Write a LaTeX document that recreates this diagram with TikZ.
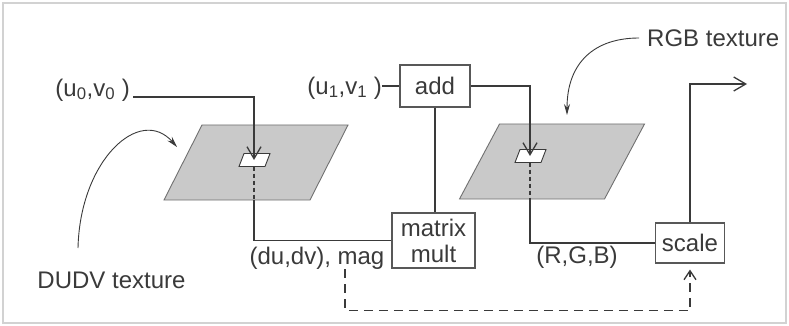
\documentclass[tikz,border=0pt]{standalone}
\usepackage{fontspec}
\setmainfont{Liberation Sans}
\usetikzlibrary{arrows.meta, positioning, calc}
\definecolor{inkgray}{RGB}{58, 58, 58}
\definecolor{planegray}{RGB}{201, 201, 201}
\definecolor{planeedge}{RGB}{112, 112, 112}
\definecolor{framegray}{RGB}{210, 210, 210}

\tikzset{
  opbox/.style={draw=inkgray!85, line width=1.1pt, fill=white, inner sep=0pt, align=center,
    font=\fontsize{24}{26}\selectfont, text=inkgray},
  lbl/.style={inner sep=0pt, font=\fontsize{24}{26}\selectfont, text=inkgray},
  wire/.style={draw=inkgray, line width=1.3pt},
  flow/.style={wire, -{Straight Barb[length=12pt, width=14pt, line width=1.3pt]}},
  hint/.style={draw=inkgray, line width=0.9pt, -{Stealth[length=11pt, width=6pt]}},
}

\begin{document}
\begin{tikzpicture}[x=1pt, y=-1pt]
  \useasboundingbox (0,0) rectangle (789,326);
  \draw[framegray, line width=1.5pt] (3,3) rectangle (786,323);

  % the two textures, each with its sampled texel
  \foreach \px/\py/\pw/\ps/\hx/\hy/\nm in {256/162.5/146/19/254/160/L, 552/161.5/145/20/530/156/R} {
    \filldraw[fill=planegray, draw=planeedge, line width=0.9pt]
      ({\px-\pw/2+\ps},{\py-37.5}) -- ({\px+\pw/2+\ps},{\py-37.5})
      -- ({\px+\pw/2-\ps},{\py+37.5}) -- ({\px-\pw/2-\ps},{\py+37.5}) -- cycle;
    \filldraw[fill=white, draw=inkgray, line width=0.9pt]
      ({\hx-10},{\hy-6.5}) -- ({\hx+16},{\hy-6.5}) -- ({\hx+11},{\hy+6.5}) -- ({\hx-15},{\hy+6.5}) -- cycle;
    \coordinate (hole\nm) at (\hx,\hy);
    \coordinate (hole\nm bot) at (\hx,{\hy+6.5});
    \coordinate (plane\nm bot) at (\hx,{\py+37.5});
    \draw[wire, dash pattern=on 4pt off 3pt] (hole\nm bot) -- (plane\nm bot);
  }

  % operators
  \node[opbox, minimum width=70pt, minimum height=42pt] (add) at (435,86) {add};
  \node[opbox, minimum width=83pt, minimum height=55pt] (mult) at (433.5,240.5) {matrix\\mult};
  \node[opbox, minimum width=69pt, minimum height=40pt] (scale) at (690,243) {scale};

  % labels
  \node[lbl, anchor=east] (uvzero) at (130,90) {(u\textsubscript{0},v\textsubscript{0} )};
  \node[lbl, anchor=east] (uvone) at (382,88) {(u\textsubscript{1},v\textsubscript{1} )};
  \node[lbl] (dudv) at (317,258) {(du,dv), mag};
  \node[lbl] (rgb) at (577,257) {(R,G,B)};
  \node[lbl] (dudvtex) at (111.5,280) {DUDV texture};
  \node[lbl, anchor=west] (rgbtex) at (647,38) {RGB texture};
  \coordinate (dudvtail) at (78,248);
  \coordinate (planeLtip) at (177,147);
  \coordinate (planeRtip) at (567,115);
  \coordinate (outtip) at (747,84);

  % connectors
  \draw[flow] ([xshift=3pt, yshift=-7pt]uvzero.east) -| (holeL);
  \draw[wire] (uvone.east |- add.west) -- (add.west);
  \draw[flow] (add.east) -| (holeR);
  \draw[wire] (add.south) -- (add.south |- mult.north);
  \draw[wire] (planeLbot) |- (mult.west);
  \draw[wire] (planeRbot) |- (scale.west);
  \draw[flow] (scale.north) |- (outtip);
  \draw[wire, dash pattern=on 9pt off 6pt, shorten >=6pt,
    -{Straight Barb[length=9pt, width=12pt, line width=1.3pt]}]
    ([xshift=28pt]dudv.south) |- ($(scale.south)+(0,47)$) -- (scale.south);
  \draw[hint] (dudvtail) .. controls (80,160) and (140,105) .. (planeLtip);
  \draw[hint] ([xshift=-8pt]rgbtex.west) .. controls (595,38) and (567,62) .. (planeRtip);
\end{tikzpicture}
\end{document}
